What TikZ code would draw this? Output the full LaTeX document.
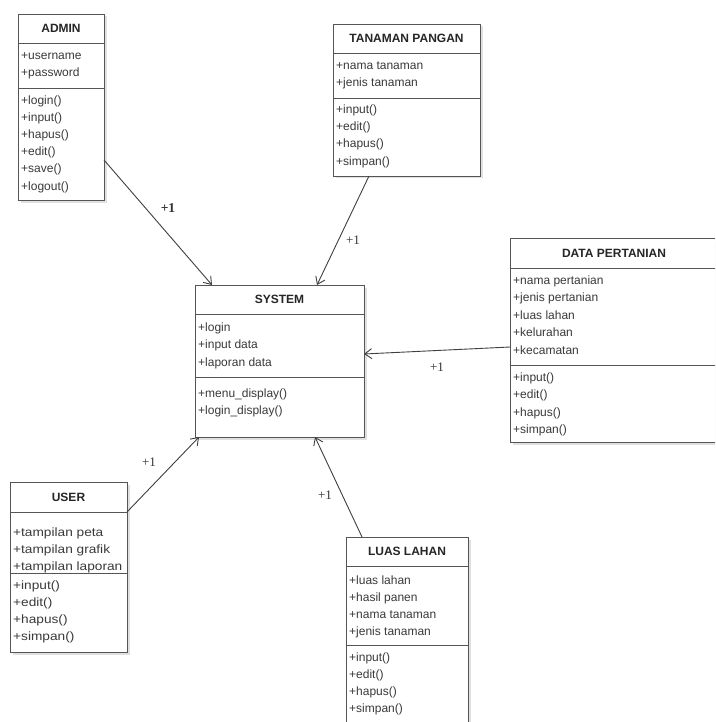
\documentclass[tikz,border=0pt]{standalone}
\usepackage{fontspec}
\usepackage{graphicx}
\setmainfont{Liberation Sans}
\newfontfamily\labelfont{Liberation Serif}
\usetikzlibrary{arrows.meta,shadows}
\definecolor{txtc}{HTML}{3A3A3A}
\definecolor{linec}{HTML}{555555}
\tikzset{
 clsbox/.style={draw=linec, line width=0.9pt, fill=white, inner sep=0pt, outer sep=0pt, anchor=north west,
   drop shadow={shadow xshift=2.5pt, shadow yshift=-2.5pt, fill=black, opacity=0.12}},
 clstitle/.style={font=\bfseries\fontsize{12}{14}\selectfont, text=black!85, inner sep=0pt},
 sepline/.style={draw=linec, line width=0.9pt},
 member/.style={font=\fontsize{12}{14}\selectfont, text=txtc, anchor=base west, inner sep=0pt},
 assoc/.style={draw=black!75, line width=0.9pt, -{Straight Barb[length=7pt,width=10pt]}},
 mult/.style={font=\labelfont\fontsize{13}{15}\selectfont, text=black!80, inner sep=0pt},
}
\newcommand\classbox[8]{%
 \node[clsbox, minimum width={#4-#2}, minimum height={#5-#3}] (#1) at (#2,#3) {};
 \node[clstitle] (#1-title) at ({(#2+#4)/2},{(#3+#7)/2}) {#6};
 \draw[sepline] (#2,#7) -- (#4,#7);
 \draw[sepline] (#2,#8) -- (#4,#8);
}
\newcommand\members[5]{%
 \foreach \m [count=\i] in {#5} {\node[member] (#1-\i) at (#2,{#3+#4*(\i-1)}) {\m};}
}
\newcommand\membersw[5]{%
 \foreach \m [count=\i] in {#5} {\node[member] (#1-\i) at (#2,{#3+#4*(\i-1)}) {\scalebox{1.14}[1]{\m}};}
}
\begin{document}
\begin{tikzpicture}[x=1pt,y=-1pt]
\useasboundingbox (0,0) rectangle (715,722);
\clip (0,0) rectangle (715,722);
\fill[white] (0,0) rectangle (715,722);

% ADMIN
\classbox{admin}{18}{14}{104}{200}{ADMIN}{43}{88}
\members{admin-a}{21}{60}{17}{+username,+password}
\members{admin-m}{21}{105}{17}{+login(),+input(),+hapus(),+edit(),+save(),+logout()}

% TANAMAN PANGAN
\classbox{tanaman}{333}{24}{480}{176}{TANAMAN PANGAN}{53}{98}
\members{tanaman-a}{336}{70}{17}{+nama tanaman,+jenis tanaman}
\members{tanaman-m}{336}{114}{17}{+input(),+edit(),+hapus(),+simpan()}

% SYSTEM
\classbox{system}{195}{285}{364}{437}{SYSTEM}{314}{377}
\members{system-a}{198}{331}{17.5}{+login,+input data,+laporan data}
\members{system-m}{198}{397}{17}{+menu\_display(),+login\_display()}

% DATA PERTANIAN
\classbox{data}{510}{238}{718}{442}{DATA PERTANIAN}{268}{365}
\members{data-a}{513}{284}{17.5}{+nama pertanian,+jenis pertanian,+luas lahan,+kelurahan,+kecamatan}
\members{data-m}{513}{381}{17.5}{+input(),+edit(),+hapus(),+simpan()}

% USER
\classbox{user}{10}{482}{127}{652}{USER}{512}{573}
\membersw{user-a}{13}{536}{17}{+tampilan peta,+tampilan grafik,+tampilan laporan}
\membersw{user-m}{13}{589}{17.3}{+input(),+edit(),+hapus(),+simpan()}

% LUAS LAHAN
\classbox{luas}{346}{537}{468}{726}{LUAS LAHAN}{566}{645}
\members{luas-a}{349}{584}{17.3}{+luas lahan,+hasil panen,+nama tanaman,+jenis tanaman}
\members{luas-m}{349}{661}{17.3}{+input(),+edit(),+hapus(),+simpan()}

% associations
\draw[assoc] ([yshift=40pt]admin.south east) -- ([xshift=-67.5pt]system.north);
\draw[assoc] ([xshift=-37.5pt]tanaman.south) -- ([xshift=37.5pt]system.north);
\draw[assoc] ([yshift=-7pt]data.west) -- ([yshift=7pt]system.east);
\draw[assoc] ([yshift=-30pt]user.north east) -- ([xshift=-80.5pt]system.south);
\draw[assoc] ([xshift=-45pt]luas.north) -- ([xshift=35.5pt]system.south);

% multiplicities
\node[mult, font=\labelfont\bfseries\fontsize{13.5}{15}\selectfont] (m1) at (168,208) {+1};
\node[mult] (m2) at (353,240) {+1};
\node[mult] (m3) at (437,367) {+1};
\node[mult] (m4) at (149,462) {+1};
\node[mult] (m5) at (325,495) {+1};
\end{tikzpicture}
\end{document}
